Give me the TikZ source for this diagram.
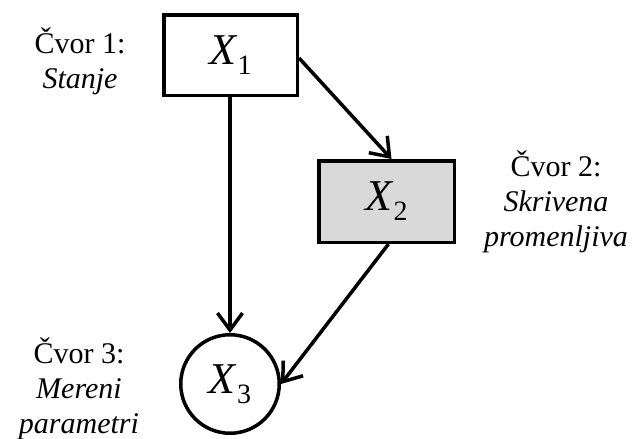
\documentclass[tikz,border=0pt]{standalone}
\usepackage{fontspec}
\setmainfont{Liberation Serif}
\usetikzlibrary{arrows.meta}
\newcommand{\varnode}[1]{\fontsize{44}{44}\selectfont\textit{X}\raisebox{-10pt}{\fontsize{28}{28}\selectfont #1}}
\begin{document}
\begin{tikzpicture}[x=1pt,y=-1pt,
  box/.style={draw=black, line width=3.5pt, inner sep=0pt, minimum width=133.5pt, minimum height=80.5pt},
  lab/.style={font=\fontsize{30}{35}\selectfont, align=center, anchor=base, inner sep=0pt},
  conn/.style={line width=3.5pt, -{Straight Barb[length=17pt,width=25pt]}}]
\useasboundingbox (0,0) rectangle (635,439);
\node[box, fill=white] (b1) at (230.5,55) {\varnode{1}};
\node[box, fill={rgb,255:red,217;green,217;blue,217}, minimum width=135.5pt, minimum height=81.5pt] (b2) at (386.5,201.5) {\varnode{2}};
\node[draw=black, line width=3.5pt, circle, inner sep=0pt, minimum size=98.5pt] (c3) at (230,384) {\varnode{3}};
\node[lab] (l1) at (80,88) {Čvor 1:\\\textit{Stanje}};
\node[lab] (l2) at (556,246) {Čvor 2:\\\textit{Skrivena}\\\textit{promenljiva}};
\node[lab] (l3) at (79,433) {Čvor 3:\\\textit{Mereni}\\\textit{parametri}};
\draw[conn] (b1.south -| c3.north) -- (c3.north);
\draw[conn] ([yshift=-3pt]b1.east) -- ([xshift=5pt]b2.north);
\draw[conn] ([xshift=2pt]b2.south) -- (c3.east);
\end{tikzpicture}
\end{document}
